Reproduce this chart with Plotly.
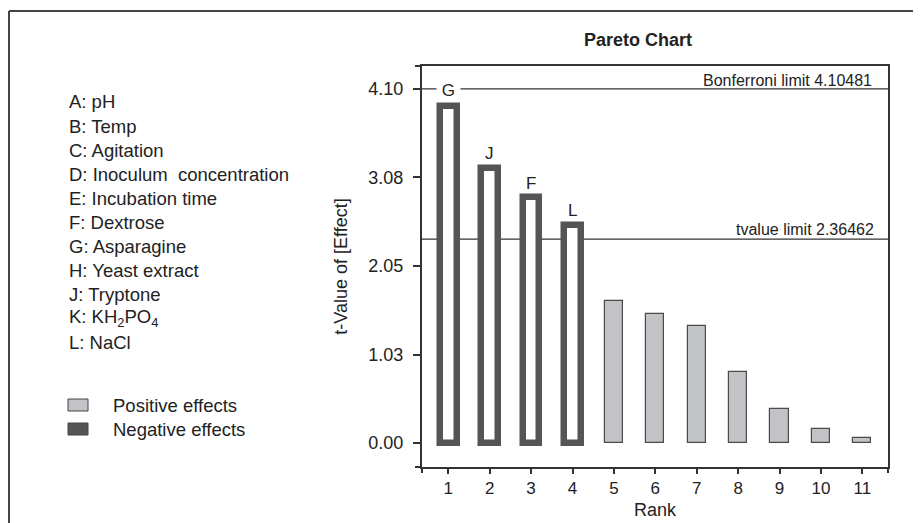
import plotly.graph_objects as go

# ---------------- data ----------------
ranks = [1, 2, 3, 4, 5, 6, 7, 8, 9, 10, 11]
t_values = [3.91, 3.19, 2.85, 2.53, 1.645, 1.50, 1.36, 0.82, 0.40, 0.16, 0.055]
effect_sign = ["neg", "neg", "neg", "neg", "pos", "pos", "pos", "pos", "pos", "pos", "pos"]
bar_labels = ["G", "J", "F", "L", "", "", "", "", "", "", ""]

factor_list = [
    "A: pH", "B: Temp", "C: Agitation", "D: Inoculum  concentration",
    "E: Incubation time", "F: Dextrose", "G: Asparagine", "H: Yeast extract",
    "J: Tryptone", "K: KH<sub>2</sub>PO<sub>4</sub>", "L: NaCl",
]

y_tickvals = [0.0, 1.0262, 2.0524, 3.0786, 4.1048]
y_ticktext = ["0.00", "1.03", "2.05", "3.08", "4.10"]

bonferroni_limit = 4.10481
tvalue_limit = 2.36462

legend_names = ["Positive effects", "Negative effects"]

# ---------------- style ----------------
FONT = "Liberation Sans, Arial, sans-serif"
TXT = "#222222"
DARK = "#555555"
LIGHT = "#c2c3c6"
FRAME = "#333333"

PAGE_W, PAGE_H = 921, 523
OFF = 8  # default body margin of the html page
W, H = PAGE_W - OFF, PAGE_H - OFF
PL, PR, PT, PB = 422, 888, 66, 467  # plot area in page pixels


def px_x(px):
    return (px - PL) / (PR - PL)


def px_y(py):
    return (PB - py) / (PB - PT)


neg_x = [r for r, s in zip(ranks, effect_sign) if s == "neg"]
neg_y = [v for v, s in zip(t_values, effect_sign) if s == "neg"]
pos_x = [r for r, s in zip(ranks, effect_sign) if s == "pos"]
pos_y = [v for v, s in zip(t_values, effect_sign) if s == "pos"]

fig = go.Figure()
fig.add_trace(go.Bar(
    x=pos_x, y=pos_y, name=legend_names[0], width=0.44,
    marker=dict(color=LIGHT, line=dict(color="#4a4a4a", width=1.2)),
    showlegend=False,
))
fig.add_trace(go.Bar(
    x=neg_x, y=neg_y, name=legend_names[1], width=0.40,
    marker=dict(color="white", line=dict(color=DARK, width=6.5)),
    showlegend=False,
))

shapes = []
# limit lines
for lim in (bonferroni_limit, tvalue_limit):
    shapes.append(dict(type="line", xref="x domain", yref="y", x0=0, x1=1,
                       y0=lim, y1=lim, line=dict(color=FRAME, width=1.2),
                       layer="below"))
# frame extensions past the corners
ex = 7 / (PR - PL)
ey = 6 / (PB - PT)
shapes += [
    dict(type="line", xref="paper", yref="paper", x0=-ex, x1=0, y0=1, y1=1,
         line=dict(color=FRAME, width=2)),
    dict(type="line", xref="paper", yref="paper", x0=-ex, x1=0, y0=0, y1=0,
         line=dict(color=FRAME, width=2)),
    dict(type="line", xref="paper", yref="paper", x0=0, x1=0, y0=-ey, y1=0,
         line=dict(color=FRAME, width=2)),
    dict(type="line", xref="paper", yref="paper", x0=1, x1=1, y0=-ey, y1=0,
         line=dict(color=FRAME, width=2)),
]
# outer figure border (left and top)
shapes += [
    dict(type="line", xref="paper", yref="paper", x0=px_x(9), x1=px_x(9),
         y0=px_y(11), y1=px_y(530), line=dict(color="#444444", width=2)),
    dict(type="line", xref="paper", yref="paper", x0=px_x(9), x1=px_x(930),
         y0=px_y(11), y1=px_y(11), line=dict(color="#444444", width=2)),
]
# legend swatches
sw_cols = [LIGHT, DARK]
sw_y = [405, 429]
for col, yc in zip(sw_cols, sw_y):
    shapes.append(dict(type="rect", xref="paper", yref="paper",
                       x0=px_x(68), x1=px_x(88), y0=px_y(yc + 6), y1=px_y(yc - 6),
                       fillcolor=col, line=dict(color="#444444", width=1)))

annotations = []
# bar letters
for r, v, lab in zip(ranks, t_values, bar_labels):
    if not lab:
        continue
    on_line = abs(v - bonferroni_limit) < 0.4
    annotations.append(dict(
        x=r, y=v, xref="x", yref="y",
        text=("&nbsp;%s&nbsp;" % lab) if on_line else lab,
        showarrow=False, yanchor="middle", yshift=15 if on_line else 14,
        bgcolor="white" if on_line else None, borderpad=0,
        font=dict(family=FONT, size=17, color=TXT)))
# limit labels
annotations.append(dict(x=1, y=bonferroni_limit, xref="x domain", yref="y",
                        text="Bonferroni limit %.5f" % bonferroni_limit,
                        showarrow=False, xanchor="right", yanchor="bottom",
                        xshift=-14, yshift=-2,
                        font=dict(family=FONT, size=16, color=TXT)))
annotations.append(dict(x=1, y=tvalue_limit, xref="x domain", yref="y",
                        text="tvalue limit %.5f" % tvalue_limit,
                        showarrow=False, xanchor="right", yanchor="bottom",
                        xshift=-12, yshift=-1,
                        font=dict(family=FONT, size=16, color=TXT)))
# factor list
for i, t in enumerate(factor_list):
    annotations.append(dict(x=px_x(67), y=px_y(102 + i * 24), xref="paper",
                            yref="paper", text=t, showarrow=False,
                            xanchor="left", yanchor="middle",
                            font=dict(family=FONT, size=18.5, color=TXT)))
# legend text
for name, yc in zip(legend_names, sw_y):
    annotations.append(dict(x=px_x(111), y=px_y(yc), xref="paper", yref="paper",
                            text=name, showarrow=False, xanchor="left",
                            yanchor="middle",
                            font=dict(family=FONT, size=18.5, color=TXT)))

fig.update_layout(
    width=W, height=H,
    margin=dict(l=PL - OFF, r=PAGE_W - PR, t=PT - OFF, b=PAGE_H - PB, pad=0,
                autoexpand=False),
    paper_bgcolor="white", plot_bgcolor="white",
    barmode="overlay", bargap=0,
    title=dict(text="<b>Pareto Chart</b>", x=px_x(638), xref="paper",
               xanchor="center", y=1 - (40 - OFF) / H, yref="container",
               yanchor="middle", font=dict(family=FONT, size=18, color=TXT)),
    shapes=shapes, annotations=annotations,
    showlegend=False,
    font=dict(family=FONT, color=TXT),
)
fig.update_xaxes(
    range=[0.365, 11.62], tickmode="array", tickvals=ranks,
    ticktext=[str(r) for r in ranks], automargin=False,
    ticks="outside", ticklen=5, tickwidth=1.5, tickcolor=FRAME,
    ticklabelstandoff=0,
    showline=True, linecolor=FRAME, linewidth=2, mirror=True,
    showgrid=False, zeroline=False,
    tickfont=dict(family=FONT, size=17, color=TXT),
    title=dict(text="Rank", standoff=6, font=dict(family=FONT, size=18, color=TXT)),
)
fig.update_yaxes(
    range=[-0.278, 4.371], tickmode="array", tickvals=y_tickvals,
    ticktext=y_ticktext, automargin=False,
    ticks="outside", ticklen=7, tickwidth=1.5, tickcolor=FRAME,
    ticklabelstandoff=6,
    showline=True, linecolor=FRAME, linewidth=2, mirror=True,
    showgrid=False, zeroline=False,
    tickfont=dict(family=FONT, size=18, color=TXT),
    title=dict(text="t-Value of [Effect]", standoff=16,
               font=dict(family=FONT, size=18, color=TXT)),
)

fig.write_html("out.html")
